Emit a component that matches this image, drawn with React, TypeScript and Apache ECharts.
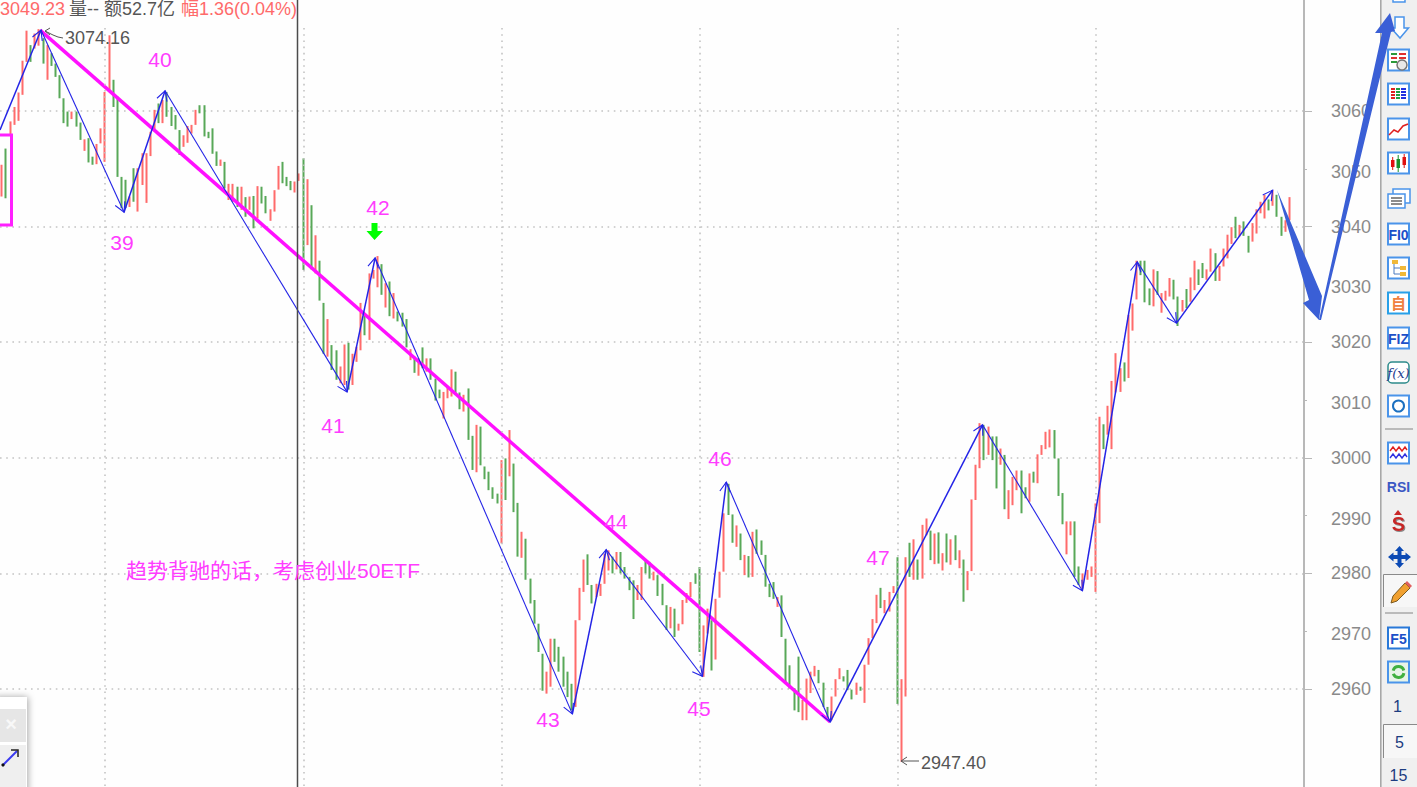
import React, { useEffect, useRef } from "react";
import * as echarts from "echarts";

const barHighs = [
  3050.7,3053.5,3058.2,3060.7,3063.2,3068.7,3073.9,3071.4,3073.4,3074.16,
  3072.6,3071.4,3070,3068.2,3066.2,3062.2,3059.9,3059.9,3059.9,3058,
  3055.1,3055.3,3052.1,3054.3,3057,3063.3,3073.1,3065.4,3062.5,3048.6,
  3048.1,3045.2,3050.1,3050.1,3052.7,3052.7,3056.4,3060.2,3061.3,3061.9,
  3063.3,3060.7,3059.3,3056.7,3055.8,3057.4,3057.6,3060.2,3061,3061,
  3056.4,3057,3053,3051.6,3051.2,3047.4,3047.4,3046.9,3046.9,3045.1,
  3045.2,3045.3,3047,3046.9,3045.3,3043,3046.3,3050.5,3051.2,3048.6,
  3047.9,3047.8,3049.2,3051.8,3048.2,3043.7,3038.5,3034.1,3026.8,3024,
  3019.5,3018.6,3015.8,3019.6,3019.9,3018,3019.2,3026.8,3025,3031.9,
  3032.5,3034.9,3033.5,3030.2,3030.5,3028.5,3025.3,3025.1,3024,3018.8,
  3017.5,3017.2,3019.1,3017.2,3017.2,3013.7,3011.8,3011.4,3012.3,3015.3,
  3014.9,3011.3,3010.9,3012,3003.8,3005.7,3005.4,2998.5,2997.6,2994.9,
  2993.8,2999.6,2999.9,3004.8,2999,2992.2,2987.2,2986,2979.1,2975.4,
  2971.3,2966.1,2963,2968.7,2968.7,2967.3,2965.6,2963,2960.9,2971.9,
  2977.5,2982.4,2983.3,2978,2978.2,2978.2,2983.4,2984,2982.9,2983.7,
  2983.7,2981.1,2979.4,2978.8,2978,2981.1,2982.3,2982,2980.3,2979.7,
  2978.2,2974.5,2974.2,2973.9,2971.3,2975.4,2976.6,2978.5,2980,2981.1,
  2971,2973.9,2971.9,2975.6,2980.3,2990.4,2995.5,2990.2,2988.3,2986.9,
  2983.2,2983,2987.2,2987.6,2985.7,2983.2,2978.2,2978.5,2975.9,2976.2,
  2968.7,2964.1,2960.1,2965.6,2958.1,2961.8,2963,2964,2963.3,2961.1,
  2956.9,2958.7,2961.7,2963.6,2962.2,2963.3,2959.9,2961.1,2960.4,2964.2,
  2968.8,2972.1,2976.3,2977.5,2975.4,2976.8,2977.8,2982.8,2961.7,2982.8,
  2985.3,2985.9,2982.4,2988.4,2989.5,2987.4,2986.9,2987.1,2983.5,2986.9,
  2985.9,2986.6,2984,2982.4,2980.4,2992.8,2998.8,3006,3005.7,3005.4,
  3003.7,3003.7,3001.6,3000.5,2994.4,2996.7,2997.8,2997.8,2994.9,2997.3,
  2997.6,3000.6,3002.2,3004.5,3004.9,3004.8,2999.9,2993.9,2989,2989,
  2989,2981.2,2980,2980.6,2981.2,2992.1,3007.1,3005.8,3009,3013.3,
  3018.1,3015.5,3016.5,3024.7,3026.7,3034.1,3034.1,3034.1,3029.3,3032.6,
  3032.3,3028.5,3028.9,3031.1,3030.8,3027.9,3027.3,3029.2,3031.2,3034.1,
  3032.6,3033.7,3032.6,3036.2,3035.4,3033.2,3036.2,3038.6,3039.9,3041.7,
  3040.3,3040.9,3038.4,3040.6,3043,3044.3,3045.5,3044.7,3046.3,3045.5,
  3041.7,3041.1,3045.1,
];

const barLows = [
  3045.2,3044.9,3055.8,3057.6,3058.3,3062.8,3068.5,3068.5,3070.8,3071.3,
  3068.2,3065.4,3067.8,3065.9,3062.2,3057.9,3057.3,3058.6,3057.3,3055,
  3053.1,3051.1,3050.7,3050.8,3054.4,3051.2,3063.3,3060.7,3048.6,3043.2,
  3043.2,3043.4,3044.3,3042.6,3047.2,3044.1,3052.2,3056.4,3057.9,3057.9,
  3059,3057.4,3056.8,3052.4,3053.8,3054.5,3056.1,3057.6,3059.6,3055.6,
  3055.3,3052.6,3050.5,3050.5,3046.6,3044.6,3044.3,3043.4,3042.9,3041.7,
  3042.9,3039.7,3041.4,3044,3042.3,3041,3042.6,3046.4,3047.5,3047,
  3046.3,3045.9,3047.9,3032.5,3036.8,3032.6,3031.9,3027.2,3018,3017.5,
  3015.2,3013.5,3012.9,3012.6,3011.8,3012.6,3016.6,3018.6,3021.2,3020.4,
  3031,3029.5,3028.2,3026,3024.5,3024.1,3023.6,3022.7,3019.1,3016.9,
  3014.7,3014.2,3015.5,3014.9,3013.5,3009.9,3010.3,3006.8,3010.3,3010.6,
  3010.9,3008.4,3008,3003.1,2997.9,2997.5,2998.7,2996.3,2994.4,2992.9,
  2992.1,2985.2,2992.7,2996.8,2990.6,2982.9,2982.7,2978.9,2974.8,2971.3,
  2966.4,2959.7,2959.2,2960.4,2964.7,2963,2960.4,2958.6,2956.3,2956.9,
  2971.9,2976.8,2978,2974.8,2975.9,2976.1,2978.2,2980.5,2980,2980.7,
  2980,2979.1,2977.1,2972.1,2975.4,2975.4,2980,2979.1,2978.8,2976.1,
  2974.5,2970.2,2970.5,2969,2970.1,2971.2,2974.9,2975.9,2978.2,2966.4,
  2962.1,2969.6,2963.2,2965.1,2975.8,2980.3,2990.1,2985.3,2984.6,2982.3,
  2979.7,2979.3,2979.4,2983.4,2983.2,2977.7,2975.9,2975.6,2974.2,2969,
  2960.9,2960.1,2956.3,2956,2954.6,2954.6,2959.3,2962.2,2961,2956.9,
  2954.6,2954.6,2958.7,2961.7,2961.3,2959.8,2958.2,2959,2959.7,2957.6,
  2964.2,2968.8,2971.4,2974,2973.1,2973.4,2976.6,2957.4,2947.4,2958.7,
  2979.4,2978.9,2978.9,2979.1,2986.6,2982.3,2981.6,2981.7,2980.5,2981.9,
  2981.5,2982.3,2980.9,2975.1,2977.1,2980.4,2992.7,2998.2,2999.6,3000.5,
  2999.6,2994.7,2998.8,2991.1,2989.4,2991.8,2994.4,2990.4,2993,2992.4,
  2995.7,2995.6,3000.5,3001.5,3001.8,2999.9,2993.4,2988.5,2983.3,2986.6,
  2979.4,2978,2977.4,2978.9,2979.4,2976.8,2988.7,3001.5,3004,3001.5,
  3011.3,3011.4,3013.2,3013.8,3022,3027.4,3031.6,3026.9,3026.4,3026.2,
  3028.2,3025.1,3027.2,3027.9,3027.4,3022.8,3025.3,3025.9,3027,3029,
  3029.9,3031.1,3030.8,3032.2,3030.6,3030.6,3033.1,3034.5,3037,3038,
  3038.3,3038.4,3035.5,3037.4,3038.8,3042.3,3041.4,3042.8,3043.6,3041.7,
  3038.4,3039.1,3041.1,
];

const barRising = [
  1,0,1,1,1,1,1,0,1,1, 0,1,0,0,0,0,0,1,0,0, 1,0,0,1,1,1,1,0,0,0, 0,1,0,1,1,1,1,1,0,1,
  0,0,0,0,1,1,1,1,0,0, 0,0,0,1,0,1,1,0,1,0, 1,0,1,0,0,1,1,1,0,0, 0,1,1,0,1,0,1,0,0,1,
  0,0,1,1,0,1,1,1,0,1, 1,1,0,1,0,1,0,0,0,1, 0,1,0,1,0,0,0,1,1,1, 0,0,1,0,0,1,0,0,0,0,
  0,1,0,1,0,0,1,0,0,0, 0,0,1,1,0,0,0,0,0,1, 1,1,0,0,1,1,1,1,0,1, 0,0,0,0,1,1,0,0,1,0,
  0,0,1,0,1,1,1,1,0,0, 1,1,0,1,1,1,0,0,1,0, 1,0,1,0,0,0,0,0,1,0, 0,0,0,0,1,1,1,1,0,0,
  0,1,1,1,0,0,0,1,0,1, 1,1,1,0,1,1,1,0,1,1, 0,1,0,1,1,0,1,0,1,0, 1,0,1,0,1,1,1,1,0,1,
  0,0,1,0,1,1,1,0,0,1, 0,1,1,1,1,0,0,0,1,1, 0,0,1,1,1,1,1,0,1,1, 1,1,0,1,1,1,0,0,0,1,
  0,1,1,1,0,0,1,0,1,1, 0,0,1,1,0,1,1,1,1,0, 1,0,0,1,1,1,1,0,1,0, 0,1,1,
];

const slotCount = 316;
const slotNames = Array.from({ length: slotCount }, (_, i) => String(i));

const zigzagSlots = [-0.5, 9.44, 29.56, 39.5, 83.6, 90.4, 138.2, 146.4, 169.7, 175.5, 200.7, 237.6, 261.8, 275.1, 284.6, 307.9];
const zigzagPrices = [3056.7, 3074.0, 3042.5, 3063.5, 3011.4, 3034.6, 2955.7, 2984.1, 2962.2, 2995.8, 2954.3, 3005.7, 2977, 3033.9, 3023.3, 3046.3];

const trendSlots = [9.2, 200.7];
const trendPrices = [3074.0, 2954.3];

const axisTickValues = [2960, 2970, 2980, 2990, 3000, 3010, 3020, 3030, 3040, 3050, 3060];
const daySeparatorSlots = [25, 73, 121, 169, 217, 265];

const UI = "'Liberation Sans','Noto Sans CJK SC',sans-serif";
const CJK = "'Liberation Sans','Noto Sans CJK SC',sans-serif";
const MAGENTA = "#ff3cff";
const ICON_BLUE = "#4a94ea";
const BG = "#fefefe";

const txt = (text: string, x: number, y: number, fontSize: number, fill: string, align = "left", extra: any = {}) => ({
  type: "text", x, y, z: 100,
  style: { text, fontSize, fill, fontFamily: UI, textAlign: align, textVerticalAlign: "middle", ...extra },
});
const rect = (x: number, y: number, w: number, h: number, fill: string, stroke?: string, lineWidth = 1, extra: any = {}) => ({
  type: "rect", z: 100, shape: { x, y, width: w, height: h },
  style: { fill, stroke: stroke ?? "none", lineWidth, ...extra },
});
const poly = (points: number[][], fill: string, stroke?: string, lineWidth = 1) => ({
  type: "polygon", z: 100, shape: { points }, style: { fill, stroke: stroke ?? "none", lineWidth },
});
const pline = (points: number[][], stroke: string, lineWidth = 1) => ({
  type: "polyline", z: 100, shape: { points }, style: { fill: "none", stroke, lineWidth },
});
const box = (cy: number, stroke = ICON_BLUE) => rect(1388, cy - 10.5, 21, 21, "#ffffff", stroke, 2);

function toolbarElements() {
  const els: any[] = [];
  els.push(rect(1381, 0, 36, 787, "#f0f0f0"));
  els.push(rect(1380, 0, 1.6, 787, "#a8a8a8"));
  els.push(rect(1393, -8, 12, 10, "#ffffff", ICON_BLUE, 1.5));
  els.push(poly([[1395, 17], [1404, 17], [1404, 28], [1408.5, 28], [1400, 38], [1391, 28], [1395, 28]], "#ffffff", ICON_BLUE, 1.5));
  els.push(box(60));
  [54, 58, 62].forEach((y, i) => {
    els.push(pline([[1391, y], [1397, y]], i === 1 ? "#d33" : "#2a9a3a", 2));
    els.push(pline([[1399, y], [1406, y]], "#e03030", 2));
  });
  els.push({ type: "circle", z: 100, shape: { cx: 1402, cy: 65, r: 5 }, style: { fill: "#e8e8e8", stroke: "#777", lineWidth: 1.5 } });
  els.push(box(94));
  [89, 92, 95, 98].forEach((y) => {
    els.push(pline([[1391, y], [1395, y]], "#e02020", 2));
    els.push(pline([[1396, y], [1400, y]], "#20a040", 2));
    els.push(pline([[1401, y], [1406, y]], "#2030e0", 2));
  });
  els.push(box(129));
  els.push(pline([[1389, 135], [1394, 130], [1398, 132], [1403, 126], [1408, 124]], "#e02020", 1.5));
  els.push(box(163));
  els.push(rect(1391, 160, 3.5, 7, "#e01010"));
  els.push(pline([[1392.7, 157], [1392.7, 170]], "#e01010", 1));
  els.push(rect(1396.5, 159, 3.5, 9, "#18902a"));
  els.push(pline([[1398.2, 155], [1398.2, 172]], "#18902a", 1));
  els.push(rect(1402.5, 157, 3.5, 8, "#e01010"));
  els.push(pline([[1404.2, 154], [1404.2, 168]], "#e01010", 1));
  els.push(rect(1393, 189, 17, 14, "#ffffff", ICON_BLUE, 1.5));
  els.push(rect(1388, 194, 17, 14, "#ffffff", ICON_BLUE, 1.5));
  [198, 201, 204].forEach((y) => els.push(pline([[1391, y], [1402, y]], "#666", 1.5)));
  els.push(box(234));
  els.push(txt("FI0", 1398.5, 235, 14, "#1c50c8", "center", { fontWeight: "bold" }));
  els.push(box(268));
  els.push(rect(1392, 260, 6, 4, "#f0b838"));
  els.push(rect(1400, 266, 6, 4, "#f0b838"));
  els.push(rect(1400, 272, 6, 4, "#f0b838"));
  els.push(pline([[1394, 264], [1394, 274], [1400, 274]], "#4a7ac0", 1));
  els.push(pline([[1394, 268], [1400, 268]], "#4a7ac0", 1));
  els.push(rect(1388, 292.5, 21, 21, "#ffffff", "#28a0e8", 2));
  els.push(txt("自", 1398.5, 303, 15, "#f08040", "center", { fontWeight: "bold", fontFamily: CJK }));
  els.push(box(338));
  els.push(txt("FIZ", 1398.5, 339, 14, "#1c50c8", "center", { fontWeight: "bold" }));
  els.push({ type: "rect", z: 100, shape: { x: 1388, y: 362, width: 21, height: 21, r: 4 }, style: { fill: "#ffffff", stroke: "#2c8a8a", lineWidth: 1.5 } });
  els.push(txt("f(x)", 1398.5, 373, 13, "#1c3c90", "center", { fontStyle: "italic", fontFamily: "'DejaVu Serif',serif" }));
  els.push(box(406));
  els.push({ type: "circle", z: 100, shape: { cx: 1398.5, cy: 406, r: 5.5 }, style: { fill: "none", stroke: "#1c70c0", lineWidth: 2 } });
  els.push(pline([[1385, 429], [1413, 429]], "#a8a8a8", 1.5));
  els.push(box(453));
  els.push(pline([[1390, 451], [1393, 447], [1396, 451], [1399, 447], [1402, 451], [1405, 447], [1407, 450]], "#e02020", 1.4));
  els.push(pline([[1390, 458], [1393, 454], [1396, 458], [1399, 454], [1402, 458], [1405, 454], [1407, 457]], "#3030e0", 1.4));
  els.push(txt("RSI", 1398.5, 487, 14, "#3c58c4", "center", { fontWeight: "bold" }));
  els.push(poly([[1394, 515], [1398, 510], [1402, 515]], "#c82828"));
  els.push(txt("S", 1398.5, 524, 20, "#c82828", "center", { fontWeight: "bold", textShadowColor: "#888", textShadowBlur: 1, textShadowOffsetX: 1, textShadowOffsetY: 1 }));
  els.push(poly([[1399.5, 546], [1404, 551], [1401.5, 551], [1401.5, 555], [1405.5, 555], [1405.5, 552.5], [1411, 557], [1405.5, 561.5], [1405.5, 559], [1401.5, 559], [1401.5, 563], [1404, 563], [1399.5, 568], [1395, 563], [1397.5, 563], [1397.5, 559], [1393.5, 559], [1393.5, 561.5], [1388, 557], [1393.5, 552.5], [1393.5, 555], [1397.5, 555], [1397.5, 551], [1395, 551]], "#0c4ab4"));
  els.push(rect(1383, 574, 34, 33, "#f7f7f7"));
  els.push(pline([[1383.5, 607], [1383.5, 574.5], [1417, 574.5]], "#8a8a8a", 1));
  els.push(poly([[1391, 603], [1393, 596], [1405, 583], [1410, 588], [1397, 601]], "#f0a030", "#7a5a20", 1));
  els.push(poly([[1405, 583], [1407, 581], [1412, 586], [1410, 588]], "#e06060"));
  els.push(pline([[1385, 613], [1413, 613]], "#a8a8a8", 1.5));
  els.push(rect(1388, 627.5, 21, 21, "#ffffff", "#2878d8", 2));
  els.push(txt("F5", 1398.5, 639, 14, "#1c50c8", "center", { fontWeight: "bold" }));
  els.push(rect(1388, 661.5, 21, 21, "#e8f4e8", "#4a94ea", 2));
  els.push({ type: "arc", z: 100, shape: { cx: 1398.5, cy: 672, r: 5.5, startAngle: 3.4, endAngle: 6.0 }, style: { fill: "none", stroke: "#40b040", lineWidth: 3 } });
  els.push({ type: "arc", z: 100, shape: { cx: 1398.5, cy: 672, r: 5.5, startAngle: 0.2, endAngle: 2.8 }, style: { fill: "none", stroke: "#40b040", lineWidth: 3 } });
  els.push(txt("1", 1397.5, 706, 16, "#1c3c80", "center"));
  els.push(rect(1383, 724, 34, 34, "#f7f7f7"));
  els.push(pline([[1383.5, 758], [1383.5, 724.5], [1417, 724.5]], "#8a8a8a", 1));
  els.push(txt("5", 1399.5, 742, 16, "#1c3c80", "center"));
  els.push(txt("15", 1398.5, 775, 16, "#1c3c80", "center"));
  return els;
}

function annotationElements() {
  const els: any[] = [];
  els.push(rect(0, 0, 1303, 26, BG));
  els.push(txt("3049.23", 0, 9, 18, "#ff6a6a"));
  els.push(txt("量-- 额52.7亿", 69, 9, 18, "#555555"));
  els.push(txt("幅1.36(0.04%)", 181, 9, 18, "#ff6a6a"));
  els.push({ type: "line", z: 100, shape: { x1: 297.5, y1: 0, x2: 297.5, y2: 787 }, style: { stroke: "#4c4c4c", lineWidth: 1.5 } });
  els.push(rect(-6, 135, 17.5, 90, "none", "#ff20ff", 3));
  [["39", 122, 242], ["40", 160, 59], ["41", 333, 425], ["42", 378, 207.5], ["43", 548, 719], ["44", 616, 521], ["45", 699, 708], ["46", 720, 458], ["47", 878, 557]].forEach(([t, x, y]) => {
    els.push(txt(t as string, x as number, y as number, 21, MAGENTA, "center"));
  });
  els.push(txt("趋势背驰的话，考虑创业50ETF", 126, 570, 21, MAGENTA));
  els.push(pline([[50, 28], [45, 31], [50, 35]], "#555", 1));
  els.push(pline([[45, 31], [53, 35], [58, 37], [63, 38]], "#555", 1));
  els.push(txt("3074.16", 65, 38, 18, "#555555"));
  els.push(pline([[907, 757], [901, 761], [907, 765]], "#555", 1));
  els.push(pline([[901, 761], [919, 761]], "#555", 1));
  els.push(txt("2947.40", 921, 763, 18, "#555555"));
  els.push(poly([[371.5, 223], [377.5, 223], [377.5, 231], [383, 231], [374.5, 240], [366.5, 231], [371.5, 231]], "#00ff00"));
  els.push(poly([[1277, 190], [1322, 296], [1319, 320], [1303, 303], [1309, 300]], "#3a5fd6"));
  els.push(poly([[1319, 320], [1382, 33], [1375, 33], [1390, 13], [1395, 31], [1391, 32], [1321, 320]], "#3a5fd6"));
  els.push(rect(-6, 697, 33, 100, "#ffffff", undefined, 1, { shadowBlur: 7, shadowColor: "rgba(0,0,0,0.35)", shadowOffsetX: 1 }));
  els.push(rect(0, 709, 26, 33, "#e6e6e6"));
  els.push(txt("×", 11, 724, 20, "#f8f8f8", "center", { fontWeight: "bold" }));
  els.push(rect(0, 745, 26, 42, "#efefef"));
  els.push({ type: "line", z: 100, shape: { x1: 3, y1: 765, x2: 17, y2: 751 }, style: { stroke: "#3a3af0", lineWidth: 2 } });
  els.push({ type: "circle", z: 100, shape: { cx: 3, cy: 765, r: 1.6 }, style: { fill: "#111" } });
  els.push(pline([[11, 750], [18, 750], [18, 757]], "#222", 1.5));
  return els;
}

const candleData = barHighs.map((h, i) =>
  barRising[i] ? [barLows[i], h, barLows[i], h] : [h, barLows[i], barLows[i], h]
);

const zigzagSegments = zigzagSlots.slice(0, -1).map((x, i) => [x, zigzagPrices[i], zigzagSlots[i + 1], zigzagPrices[i + 1]]);

function renderZigzag(_: any, api: any) {
  const a = api.coord([api.value(0), api.value(1)]);
  const b = api.coord([api.value(2), api.value(3)]);
  const up = b[1] < a[1];
  const ang = Math.atan2(b[1] - a[1], b[0] - a[0]);
  const len = 11;
  const spread = 0.5;
  const p1 = [b[0] - len * Math.cos(ang - spread), b[1] - len * Math.sin(ang - spread)];
  const p2 = [b[0] - len * Math.cos(ang + spread), b[1] - len * Math.sin(ang + spread)];
  const stroke = "#2424e6";
  return {
    type: "group",
    children: [
      { type: "line", shape: { x1: a[0], y1: a[1], x2: b[0], y2: b[1] }, style: { stroke, lineWidth: up ? 1.5 : 1.1 } },
      { type: "polyline", shape: { points: [p1, b, p2] }, style: { fill: "none", stroke, lineWidth: 1.1 } },
    ],
  };
}

export default function App() {
  const ref = useRef<HTMLDivElement>(null);
  useEffect(() => {
    document.body.style.margin = "0";
    document.body.style.overflow = "hidden";
    const chart = echarts.init(ref.current!, undefined, { renderer: "svg" });
    const dots = { color: "#c4c4c4", width: 1.6, type: [1.6, 4.6] as any };
    chart.setOption({
      animation: false,
      backgroundColor: BG,
      grid: { left: 0, top: -4.6, width: 1304, height: 809.2, containLabel: false, outerBoundsMode: "none" },
      xAxis: [
        {
          type: "category",
          data: slotNames,
          boundaryGap: true,
          axisLine: { show: false, onZero: false },
          axisTick: { show: false },
          axisLabel: { show: false },
          splitLine: { show: false },
        },
        { type: "value", show: false, min: -0.5, max: slotCount - 0.5, axisLine: { onZero: false }, splitLine: { show: false } },
      ],
      yAxis: [
        {
          type: "value",
          position: "right",
          min: 2940,
          max: 3080,
          interval: 10,
          axisLine: { show: true, onZero: false, lineStyle: { color: "#b8b8b8", width: 2 } },
          axisTick: { show: true, customValues: axisTickValues, length: 3, lineStyle: { color: "#b8b8b8" } },
          axisLabel: {
            show: true,
            customValues: axisTickValues,
            margin: 27,
            color: "#8a8a8a",
            fontSize: 18,
            fontFamily: UI,
            formatter: (v: number) => (v % 20 === 0 ? `{m|${v}}` : `{o|${v}}`),
            rich: {
              m: { color: "#8a8a8a", fontSize: 18, fontFamily: UI },
              o: { color: "#8a8a8a", fontSize: 18, fontFamily: UI, padding: [6, 0, 0, 0] },
            },
          },
          splitLine: { show: false },
        },
        {
          type: "value",
          position: "right",
          min: 2940,
          max: 3080,
          interval: 20,
          axisLine: { show: false, onZero: false },
          axisTick: { show: true, length: 8, lineStyle: { color: "#b8b8b8" } },
          axisLabel: { show: false },
          splitLine: { show: true, lineStyle: dots },
        },
      ],
      graphic: { elements: [...toolbarElements(), ...annotationElements()] },
      series: [
        {
          type: "candlestick",
          xAxisIndex: 0,
          yAxisIndex: 0,
          barWidth: 0.01,
          data: candleData,
          itemStyle: { color: "#ff6b6b", color0: "#58a858", borderColor: "#ff6b6b", borderColor0: "#58a858", borderWidth: 2 },
          markLine: {
            silent: true,
            symbol: "none",
            label: { show: false },
            lineStyle: dots,
            data: daySeparatorSlots.map((s) => ({ xAxis: String(s) })),
          },
        },
        {
          type: "line",
          xAxisIndex: 1,
          yAxisIndex: 0,
          data: trendSlots.map((x, i) => [x, trendPrices[i]]),
          showSymbol: false,
          lineStyle: { color: "#ff10ff", width: 3.5 },
          z: 4,
        },
        {
          type: "custom",
          xAxisIndex: 1,
          yAxisIndex: 0,
          data: zigzagSegments,
          encode: { x: [0, 2], y: [1, 3] },
          renderItem: renderZigzag,
          z: 5,
        },
      ],
    });
    return () => chart.dispose();
  }, []);
  return <div ref={ref} style={{ width: 1417, height: 787 }} />;
}
